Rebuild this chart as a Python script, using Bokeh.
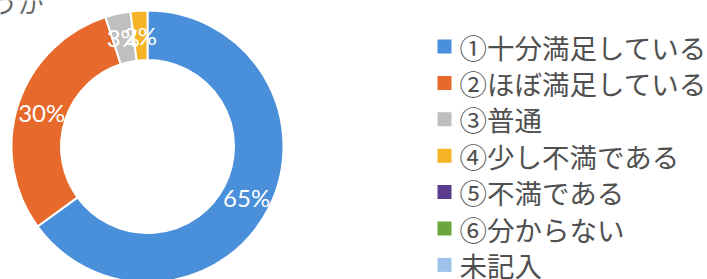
import numpy as np
from bokeh.plotting import figure
from bokeh.models import Range1d, ColumnDataSource
from bokeh.core.properties import value
from bokeh.embed import file_html
from bokeh.resources import INLINE

# ---- data ----
categories = ["①十分満足している", "②ほぼ満足している", "③普通", "④少し不満である",
              "⑤不満である", "⑥分からない", "未記入"]
values = [65, 30, 3, 2, 0, 0, 0]
colors = ["#4a8fd9", "#e8692c", "#bfbfbf", "#f6b325", "#5c3a8c", "#6ba63c", "#9ec3ea"]
title_tail = "うか"

W, H = 707, 279
def Y(py):
    return H - py

p = figure(width=W, height=H, output_backend="svg", toolbar_location=None,
           x_range=Range1d(0, W), y_range=Range1d(0, H),
           x_axis_type=None, y_axis_type=None, min_border=0,
           margin=0)
p.outline_line_color = None
p.grid.visible = False
p.background_fill_color = "white"
p.border_fill_color = "white"

# ---- donut ----
cx, cy = 147, 146
r_in, r_out = 86.5, 136
vals = np.array(values, dtype=float)
frac = vals / vals.sum()
cum_end = np.cumsum(frac)
cum_start = cum_end - frac
mask = vals > 0
start = np.pi / 2 - 2 * np.pi * cum_end[mask]
end = np.pi / 2 - 2 * np.pi * cum_start[mask]
src = ColumnDataSource(dict(start=start, end=end,
                            color=[c for c, m in zip(colors, mask) if m]))
p.annular_wedge(x=cx, y=Y(cy), inner_radius=r_in, outer_radius=r_out,
                start_angle="start", end_angle="end", fill_color="color",
                line_color="white", line_width=2, source=src)

mid = np.pi / 2 - 2 * np.pi * (cum_start[mask] + cum_end[mask]) / 2
r_mid = (r_in + r_out) / 2
lx = cx + r_mid * np.cos(mid)
ly = Y(cy) + r_mid * np.sin(mid)
labels = [f"{int(v)}%" for v in vals[mask]]
p.text(x=lx, y=ly, text=labels, text_color="white", text_font=value("Lato"),
       text_font_size="24px", text_align="center", text_baseline="middle")

# ---- legend ----
lg_x_sq, lg_x_txt = 444, 459
row0, row_h = 46, 36.4
rows_y = [Y(row0 + i * row_h) for i in range(len(categories))]
p.scatter(x=[lg_x_sq] * len(categories), y=rows_y, marker="square", size=14,
          fill_color=colors, line_color=None)
p.text(x=[lg_x_txt] * len(categories), y=rows_y, text=categories,
       text_color="#505050", text_font=value("Noto Sans CJK JP"),
       text_font_size="27.5px", text_align="left", text_baseline="middle")

# ---- clipped title remnant ----
p.text(x=[43], y=[Y(1)], text=[title_tail], text_color="#666666",
       text_font=value("Noto Sans CJK JP"), text_font_size="26px",
       text_align="right", text_baseline="alphabetic")

open("out.html", "w").write(file_html(p, INLINE))
